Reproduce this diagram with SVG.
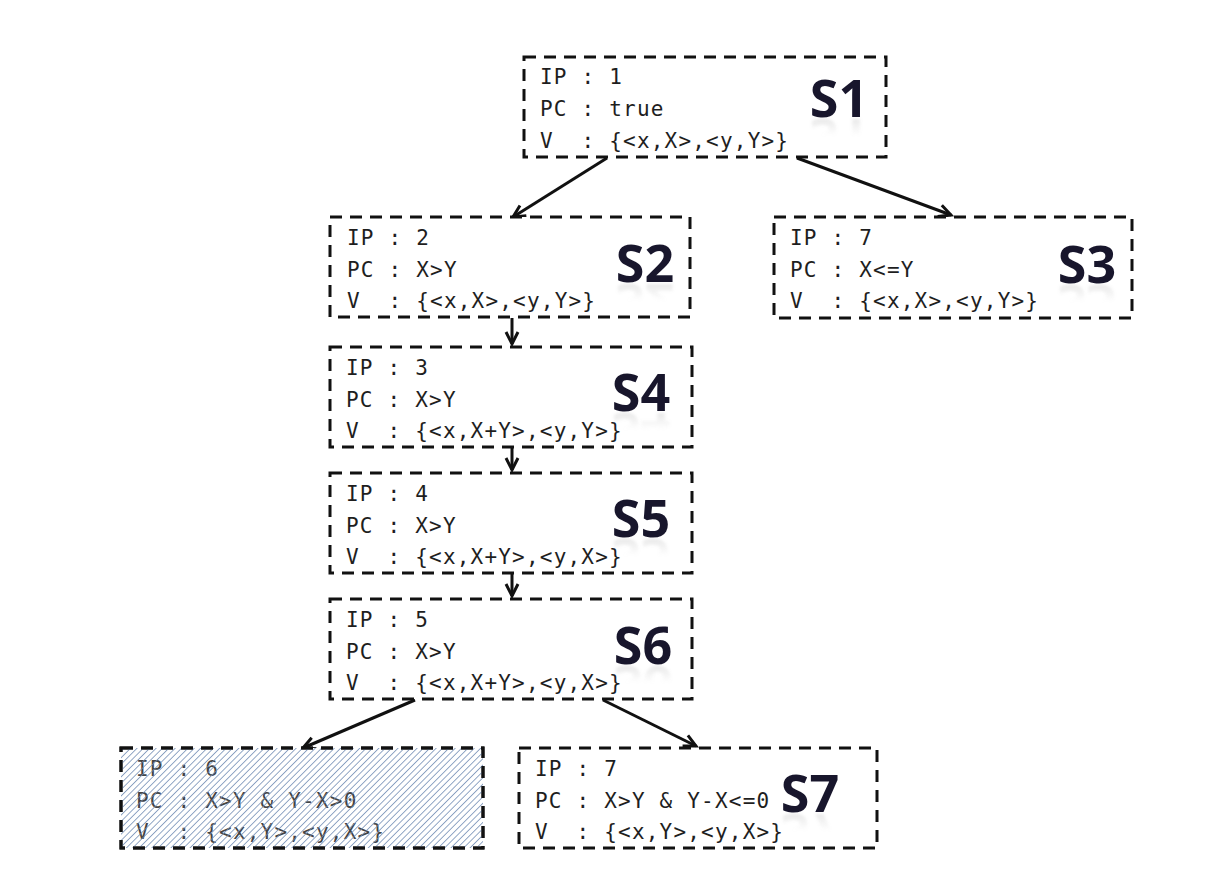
<svg xmlns="http://www.w3.org/2000/svg" width="1226" height="880" viewBox="0 0 1226 880">
<style>
.box{fill:#fff;stroke:#111;stroke-width:3;stroke-dasharray:12 8}
.t{font-family:"DejaVu Sans Mono","Liberation Mono",monospace;font-size:21px;letter-spacing:1.2px;fill:#1e1e1e;white-space:pre}
.lbl{font-family:"Open Sans","Liberation Sans",sans-serif;font-weight:bold;font-size:52px;fill:#18162c;text-anchor:middle}
.ref{font-family:"Open Sans","Liberation Sans",sans-serif;font-weight:bold;font-size:52px;fill:url(#rg);text-anchor:middle;filter:url(#bl)}
.edge{stroke:#111;stroke-width:3;fill:none;marker-end:url(#ah)}
</style>
<defs>
<marker id="ah" markerUnits="userSpaceOnUse" markerWidth="18" markerHeight="18" refX="14" refY="8" orient="auto">
<path d="M2,2 L14,8 L2,14" fill="none" stroke="#111" stroke-width="3"/>
</marker>
<pattern id="hatch" patternUnits="userSpaceOnUse" width="4.5" height="4.5" patternTransform="rotate(45)">
<line x1="0" y1="0" x2="0" y2="4.5" stroke="#6f8ab3" stroke-width="1.5"/>
</pattern>
<linearGradient id="rg" x1="0" y1="0" x2="0" y2="1">
<stop offset="0.55" stop-color="#999" stop-opacity="0"/>
<stop offset="1" stop-color="#777" stop-opacity="0.35"/>
</linearGradient>
<filter id="bl"><feGaussianBlur stdDeviation="1.5"/></filter>
</defs>
<rect width="1226" height="880" fill="#fff"/>

<g id="edges">
<line class="edge" x1="607" y1="158" x2="513" y2="217"/>
<line class="edge" x1="797" y1="158" x2="951" y2="215"/>
<line class="edge" x1="512" y1="318" x2="512" y2="344"/>
<line class="edge" x1="512" y1="448" x2="512" y2="470"/>
<line class="edge" x1="512" y1="574" x2="512" y2="596"/>
<line class="edge" x1="415" y1="700" x2="303" y2="748"/>
<line class="edge" x1="603" y1="700" x2="696" y2="746"/>
</g>

<g id="S1">
<rect class="box" x="524" y="57" width="362" height="100"/>
<text class="t" x="540" y="84">IP : 1</text>
<text class="t" x="540" y="116">PC : true</text>
<text class="t" x="540" y="148">V  : {&lt;x,X&gt;,&lt;y,Y&gt;}</text>
<text class="ref" x="839" y="117" transform="matrix(1 0 0 -1 0 236)">S1</text>
<text class="lbl" x="839" y="117">S1</text>
</g>

<g id="S2">
<rect class="box" x="330" y="217" width="360" height="100"/>
<text class="t" x="347" y="245">IP : 2</text>
<text class="t" x="347" y="277">PC : X&gt;Y</text>
<text class="t" x="347" y="308">V  : {&lt;x,X&gt;,&lt;y,Y&gt;}</text>
<text class="ref" x="645" y="282" transform="matrix(1 0 0 -1 0 566)">S2</text>
<text class="lbl" x="645" y="282">S2</text>
</g>

<g id="S3">
<rect class="box" x="774" y="217" width="358" height="101"/>
<text class="t" x="790" y="245">IP : 7</text>
<text class="t" x="790" y="277">PC : X&lt;=Y</text>
<text class="t" x="790" y="308">V  : {&lt;x,X&gt;,&lt;y,Y&gt;}</text>
<text class="ref" x="1087" y="283" transform="matrix(1 0 0 -1 0 568)">S3</text>
<text class="lbl" x="1087" y="283">S3</text>
</g>

<g id="S4">
<rect class="box" x="330" y="347" width="362" height="100"/>
<text class="t" x="346" y="375">IP : 3</text>
<text class="t" x="346" y="407">PC : X&gt;Y</text>
<text class="t" x="346" y="438">V  : {&lt;x,X+Y&gt;,&lt;y,Y&gt;}</text>
<text class="ref" x="641" y="411" transform="matrix(1 0 0 -1 0 824)">S4</text>
<text class="lbl" x="641" y="411">S4</text>
</g>

<g id="S5">
<rect class="box" x="330" y="473" width="362" height="100"/>
<text class="t" x="346" y="501">IP : 4</text>
<text class="t" x="346" y="533">PC : X&gt;Y</text>
<text class="t" x="346" y="564">V  : {&lt;x,X+Y&gt;,&lt;y,X&gt;}</text>
<text class="ref" x="641" y="537" transform="matrix(1 0 0 -1 0 1076)">S5</text>
<text class="lbl" x="641" y="537">S5</text>
</g>

<g id="S6">
<rect class="box" x="330" y="599" width="362" height="100"/>
<text class="t" x="346" y="627">IP : 5</text>
<text class="t" x="346" y="659">PC : X&gt;Y</text>
<text class="t" x="346" y="690">V  : {&lt;x,X+Y&gt;,&lt;y,X&gt;}</text>
<text class="ref" x="643" y="664" transform="matrix(1 0 0 -1 0 1330)">S6</text>
<text class="lbl" x="643" y="664">S6</text>
</g>

<g id="S-leaf">
<rect class="box" x="121" y="748" width="362" height="100"/>
<text class="t" x="136" y="776" style="fill:#444">IP : 6</text>
<text class="t" x="136" y="808" style="fill:#444">PC : X&gt;Y &amp; Y-X&gt;0</text>
<text class="t" x="136" y="839" style="fill:#444">V  : {&lt;x,Y&gt;,&lt;y,X&gt;}</text>
<rect x="121" y="748" width="362" height="100" fill="url(#hatch)"/>
<rect x="121" y="748" width="362" height="100" fill="none" stroke="#111" stroke-width="3" stroke-dasharray="12 8"/>
</g>

<g id="S7">
<rect class="box" x="519" y="748" width="358" height="100"/>
<text class="t" x="535" y="776">IP : 7</text>
<text class="t" x="535" y="808">PC : X&gt;Y &amp; Y-X&lt;=0</text>
<text class="t" x="535" y="839">V  : {&lt;x,Y&gt;,&lt;y,X&gt;}</text>
<text class="ref" x="810" y="812" transform="matrix(1 0 0 -1 0 1626)">S7</text>
<text class="lbl" x="810" y="812">S7</text>
</g>
</svg>
